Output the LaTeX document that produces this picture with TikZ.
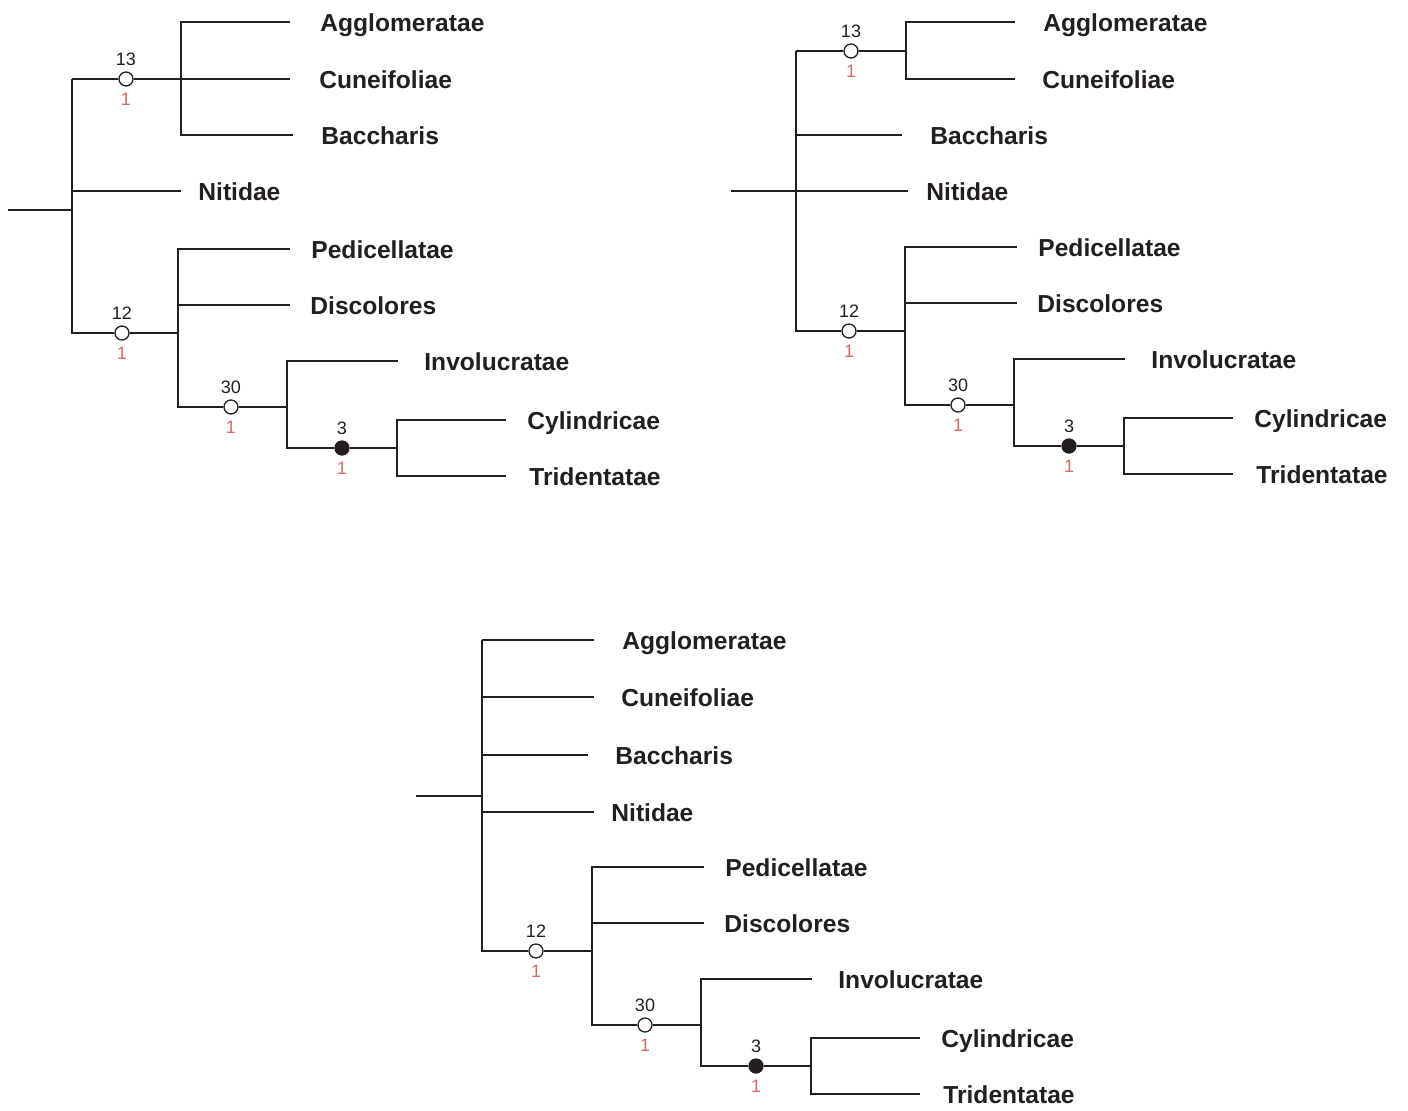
\documentclass[tikz,border=0pt]{standalone}
\usepackage{fontspec}
\setmainfont{Liberation Sans}
\usetikzlibrary{positioning}
\definecolor{ink}{HTML}{231F20}
\definecolor{rose}{HTML}{D66868}
\tikzset{branch/.style={draw=ink,line width=0.65pt},
  taxon/.style={anchor=west,inner sep=0pt,text height=9pt,text depth=0pt,
    font=\fontsize{12.3}{14}\selectfont\bfseries,text=ink},
  opendot/.style={circle,draw=ink,fill=white,line width=0.65pt,minimum size=7pt,inner sep=0pt},
  fulldot/.style={opendot,fill=ink},
  support/.style={inner sep=0pt,font=\fontsize{9}{10}\selectfont,text=ink},
  changes/.style={support,text=rose}}

\begin{document}
\begin{tikzpicture}[x=0.5pt,y=-0.5pt]
\useasboundingbox (0,0) rectangle (1408,1110);
% upper parts, one per tree
\coordinate (a-top) at (72,79);
\coordinate (b-top) at (796,51);
\coordinate (c-top) at (482,640);
\foreach \t/\rx/\sx/\sy in {a/8/72/210,b/731/796/191,c/416/482/796}{
  \coordinate (\t-root) at (\rx,\sy);
  \coordinate (\t-base) at (\sx,\sy);
  \draw[branch] (\t-root) -- (\t-base);
}
% clade 13 in trees a and b
\foreach \t/\dx/\jx/\dy in {a/126/181/79,b/851/906/51}{
  \node[opendot] (\t-d13) at (\dx,\dy) {};
  \coordinate (\t-j13) at (\jx,\dy);
  \node[support,above=2.6pt of \t-d13] (\t-s13) {13};
  \node[changes,below=3.2pt of \t-d13] (\t-c13) {1};
  \draw[branch] (\t-top) -- (\t-d13) -- (\t-j13);
}
\foreach \j/\n/\y/\tip/\lab/\txt in {a-j13/a-agg/22/290/320/Agglomeratae,
  a-j13/a-cun/79/290/319/Cuneifoliae,a-j13/a-bac/135/293/321/Baccharis,
  a-top/a-nit/191/181/198/Nitidae,
  b-j13/b-agg/22/1015/1043/Agglomeratae,b-j13/b-cun/79/1015/1042/Cuneifoliae,
  b-top/b-bac/135/902/930/Baccharis,b-top/b-nit/191/908/926/Nitidae,
  c-top/c-agg/640/594/622/Agglomeratae,c-top/c-cun/697/594/621/Cuneifoliae,
  c-top/c-bac/755/588/615/Baccharis,c-top/c-nit/812/594/611/Nitidae}{
  \coordinate (\n-tip) at (\tip,\y);
  \node[taxon] (\n) at (\lab,\y) {\txt};
  \draw[branch] (\j) |- (\n-tip);
}
% lower clade, the same in all three trees
\foreach \t/\ox/\oy in {a/0/0,b/727/-2,c/414/618}{
  \begin{scope}[shift={(\ox,\oy)}]
  \node[opendot] (\t-d12) at (122,333) {};
  \coordinate (\t-j12) at (178,333);
  \node[opendot] (\t-d30) at (231,407) {};
  \coordinate (\t-j30) at (287,407);
  \node[fulldot] (\t-d3) at (342,448) {};
  \coordinate (\t-j3) at (397,448);
  \foreach \d/\s in {d12/12,d30/30,d3/3}{
    \node[support,above=2.6pt of \t-\d] (\t-\d-s) {\s};
    \node[changes,below=3.2pt of \t-\d] (\t-\d-c) {1};
  }
  \foreach \j/\n/\y/\tip/\lab/\txt in {j12/ped/249/290/311/Pedicellatae,
    j12/dis/305/290/310/Discolores,j30/inv/361/398/424/Involucratae,
    j3/cyl/420/506/527/Cylindricae,j3/tri/476/506/529/Tridentatae}{
    \coordinate (\t-\n-tip) at (\tip,\y);
    \node[taxon] (\t-\n) at (\lab,\y) {\txt};
    \draw[branch] (\t-\j) |- (\t-\n-tip);
  }
  \draw[branch] (\t-d12) -- (\t-j12) |- (\t-d30);
  \draw[branch] (\t-d30) -- (\t-j30) |- (\t-d3);
  \draw[branch] (\t-d3) -- (\t-j3);
  \end{scope}
  \draw[branch] (\t-top) |- (\t-d12);
}
\end{tikzpicture}
\end{document}
